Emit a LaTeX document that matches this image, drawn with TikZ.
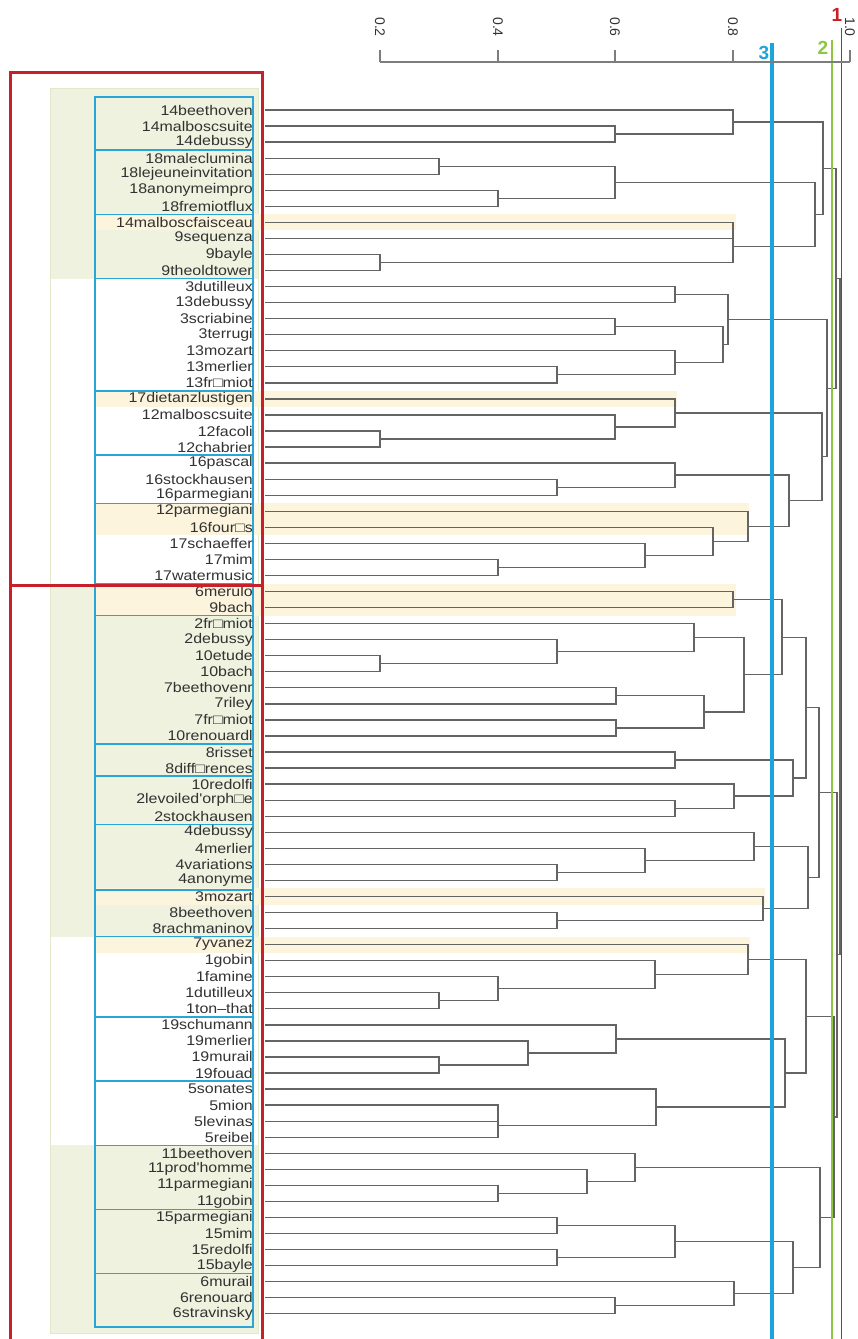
\documentclass[tikz,border=0pt]{standalone}
\usepackage{fontspec}
\setmainfont{Liberation Sans}
\newfontfamily\lblfont[FakeStretch=1.14]{Liberation Sans}
\usetikzlibrary{calc}

\definecolor{boxblue}{RGB}{42,166,214}
\definecolor{cutblue}{RGB}{27,165,220}
\definecolor{cutgreen}{RGB}{141,198,63}
\definecolor{cutred}{RGB}{200,32,42}
\definecolor{zonegreen}{RGB}{238,242,222}
\definecolor{zoneedge}{RGB}{226,233,203}
\definecolor{bandyellow}{RGB}{252,244,221}
\definecolor{linegray}{RGB}{100,100,100}
\definecolor{axisgray}{RGB}{125,125,125}
\definecolor{textgray}{RGB}{50,50,50}

\tikzset{
  dend/.style={draw=linegray, line width=1.3pt},
  leaf/.style={anchor=east, inner sep=0pt, text=textgray, font=\lblfont\fontsize{14}{14}\selectfont},
  grp/.style={draw=boxblue, line width=1.4pt},
  redbox/.style={draw=cutred, line width=3pt},
  axisline/.style={draw=axisgray, line width=1.3pt},
  ticklbl/.style={rotate=-90, inner sep=0pt, text=textgray, font=\fontsize{14}{14}\selectfont},
  cutlbl/.style={inner sep=0pt, font=\bfseries\fontsize{19}{19}\selectfont},
}

% merge two branches #3 and #4 at height #2, new branch point is #1
\newcommand\dmerge[4]{%
  \draw[dend] let \p1=(#3), \p2=(#4) in
    (\p1) -- (#2pt,\y1) -- (#2pt,\y2) -- (\p2)
    coordinate (#1) at (#2pt,{0.5*\y1+0.5*\y2});
}

\begin{document}
\begin{tikzpicture}[x=1pt,y=-1pt]
  \useasboundingbox (0,0) rectangle (858,1339);

  % green zones
  \fill[zonegreen] (50,88) rectangle (258,278.5);
  \fill[zonegreen] (50,583.5) rectangle (258,936.6);
  \fill[zonegreen] (50,1145.2) rectangle (258,1333);
  \draw[zoneedge, line width=1pt] (50,88) rectangle (258,1333);

  % yellow bands
  \fill[bandyellow] (95,214.3) rectangle (736,230.4);
  \fill[bandyellow] (95,390.9) rectangle (677,406.9);
  \fill[bandyellow] (95,503.2) rectangle (749,535.3);
  \fill[bandyellow] (95,583.5) rectangle (736,615.6);
  \fill[bandyellow] (95,888.4) rectangle (765,904.5);
  \fill[bandyellow] (95,936.6) rectangle (750,952.6);

  % blue group boxes
  \foreach \a/\b in {97/150.1, 150.1/214.3, 214.3/278.5, 278.5/390.9, 390.9/455.1,
      455.1/503.2, 503.2/583.5, 583.5/615.6, 615.6/744, 744/776.1, 776.1/824.2,
      824.2/890, 890/936.6, 936.6/1016.8, 1016.8/1081, 1081/1145.2, 1145.2/1209.4,
      1209.4/1273.6, 1273.6/1327}
    \draw[grp] (95,\a) rectangle (253,\b);

  % the leaves
  \foreach \lab [count=\i] in {14beethoven, 14malboscsuite, 14debussy, 18maleclumina,
      18lejeuneinvitation, 18anonymeimpro, 18fremiotflux, 14malboscfaisceau, 9sequenza,
      9bayle, 9theoldtower, 3dutilleux, 13debussy, 3scriabine, 3terrugi, 13mozart,
      13merlier, 13fr□miot, 17dietanzlustigen, 12malboscsuite, 12facoli, 12chabrier,
      16pascal, 16stockhausen, 16parmegiani, 12parmegiani, 16four□s, 17schaeffer, 17mim,
      17watermusic, 6merulo, 9bach, 2fr□miot, 2debussy, 10etude, 10bach, 7beethovenr,
      7riley, 7fr□miot, 10renouardl, 8risset, 8diff□rences, 10redolfi, 2levoiled'orph□e,
      2stockhausen, 4debussy, 4merlier, 4variations, 4anonyme, 3mozart, 8beethoven,
      8rachmaninov, 7yvanez, 1gobin, 1famine, 1dutilleux, 1ton–that, 19schumann,
      19merlier, 19murail, 19fouad, 5sonates, 5mion, 5levinas, 5reibel, 11beethoven,
      11prod'homme, 11parmegiani, 11gobin, 15parmegiani, 15mim, 15redolfi, 15bayle,
      6murail, 6renouard, 6stravinsky}
  {
    \node[leaf] (t\i) at (253,{110+(\i-1)*16.05}) {\lab};
    \coordinate (l\i) at (265,{110+(\i-1)*16.05});
  }

  % top cluster
  \dmerge{n23}{615}{l2}{l3}
  \dmerge{a1}{733}{l1}{n23}
  \dmerge{n45}{439}{l4}{l5}
  \dmerge{n67}{498}{l6}{l7}
  \dmerge{a2}{615}{n45}{n67}
  \dmerge{n89}{733}{l8}{l9}
  \dmerge{n1011}{380}{l10}{l11}
  \dmerge{a3}{733}{n89}{n1011}
  \dmerge{a23}{815}{a2}{a3}
  \dmerge{cA}{823}{a1}{a23}
  \dmerge{n1213}{675}{l12}{l13}
  \dmerge{n1415}{615}{l14}{l15}
  \dmerge{n1718}{557}{l17}{l18}
  \dmerge{n1618}{675}{l16}{n1718}
  \dmerge{b1}{723}{n1415}{n1618}
  \dmerge{cB}{728}{n1213}{b1}
  \dmerge{n2122}{380}{l21}{l22}
  \dmerge{n2022}{615}{l20}{n2122}
  \dmerge{c1}{675}{l19}{n2022}
  \dmerge{n2425}{557}{l24}{l25}
  \dmerge{c2}{675}{l23}{n2425}
  \dmerge{n2930}{498}{l29}{l30}
  \dmerge{n2830}{645}{l28}{n2930}
  \dmerge{n2730}{713}{l27}{n2830}
  \dmerge{c3}{748}{l26}{n2730}
  \dmerge{c4}{789}{c2}{c3}
  \dmerge{cC}{822}{c1}{c4}
  \dmerge{cBC}{827}{cB}{cC}
  \dmerge{top}{836}{cA}{cBC}

  % bottom cluster
  \dmerge{n3132}{733}{l31}{l32}
  \dmerge{n3536}{380}{l35}{l36}
  \dmerge{n3436}{557}{l34}{n3536}
  \dmerge{n3336}{694}{l33}{n3436}
  \dmerge{n3738}{616}{l37}{l38}
  \dmerge{n3940}{616}{l39}{l40}
  \dmerge{n3740}{704}{n3738}{n3940}
  \dmerge{d1}{744}{n3336}{n3740}
  \dmerge{d2}{782}{n3132}{d1}
  \dmerge{n4142}{675}{l41}{l42}
  \dmerge{n4445}{675}{l44}{l45}
  \dmerge{n4345}{734}{l43}{n4445}
  \dmerge{d3}{793}{n4142}{n4345}
  \dmerge{d4}{806}{d2}{d3}
  \dmerge{n4849}{557}{l48}{l49}
  \dmerge{n4749}{645}{l47}{n4849}
  \dmerge{n4649}{754}{l46}{n4749}
  \dmerge{n5152}{557}{l51}{l52}
  \dmerge{n5052}{763}{l50}{n5152}
  \dmerge{d5}{808}{n4649}{n5052}
  \dmerge{cD}{819}{d4}{d5}
  \dmerge{n5657}{439}{l56}{l57}
  \dmerge{n5557}{498}{l55}{n5657}
  \dmerge{n5457}{655}{l54}{n5557}
  \dmerge{e1}{748}{l53}{n5457}
  \dmerge{n6061}{439}{l60}{l61}
  \dmerge{n5961}{528}{l59}{n6061}
  \dmerge{e2}{616}{l58}{n5961}
  \dmerge{n6364}{498}{l63}{l64}
  \dmerge{n6365}{498}{n6364}{l65}
  \dmerge{e3}{656}{l62}{n6365}
  \dmerge{e4}{785}{e2}{e3}
  \dmerge{e5}{806}{e1}{e4}
  \dmerge{n6869}{498}{l68}{l69}
  \dmerge{n6769}{587}{l67}{n6869}
  \dmerge{e6}{635}{l66}{n6769}
  \dmerge{n7071}{557}{l70}{l71}
  \dmerge{n7273}{557}{l72}{l73}
  \dmerge{e7}{675}{n7071}{n7273}
  \dmerge{n7576}{615}{l75}{l76}
  \dmerge{e8}{734}{l74}{n7576}
  \dmerge{e9}{793}{e7}{e8}
  \dmerge{e10}{820}{e6}{e9}
  \dmerge{cE}{834}{e5}{e10}
  \dmerge{bot}{837}{cD}{cE}
  \dmerge{root}{840}{top}{bot}

  % red frames
  \draw[redbox] (10,72) rectangle (262,585);
  \draw[redbox] (10,585) rectangle (262,1345);

  % the cut levels
  \draw[cutblue, line width=3.5pt] (772,43) -- (772,1339);
  \draw[cutgreen, line width=1.5pt] (832,40) -- (832,1339);
  \draw[cutred, line width=1pt] (841,28) -- (841,1339);
  \node[cutlbl, text=cutblue] (k3) at (764,53) {3};
  \node[cutlbl, text=cutgreen] (k2) at (823,48) {2};
  \node[cutlbl, text=cutred] (k1) at (837,15) {1};

  % the axis
  \draw[axisline] (380,62) -- (850,62);
  \foreach \val/\xp in {0.2/380, 0.4/498, 0.6/615, 0.8/733, 1.0/850}
  {
    \draw[axisline] (\xp,50) -- (\xp,62);
    \node[ticklbl] (v\xp) at (\xp,27) {\val};
  }
\end{tikzpicture}
\end{document}
